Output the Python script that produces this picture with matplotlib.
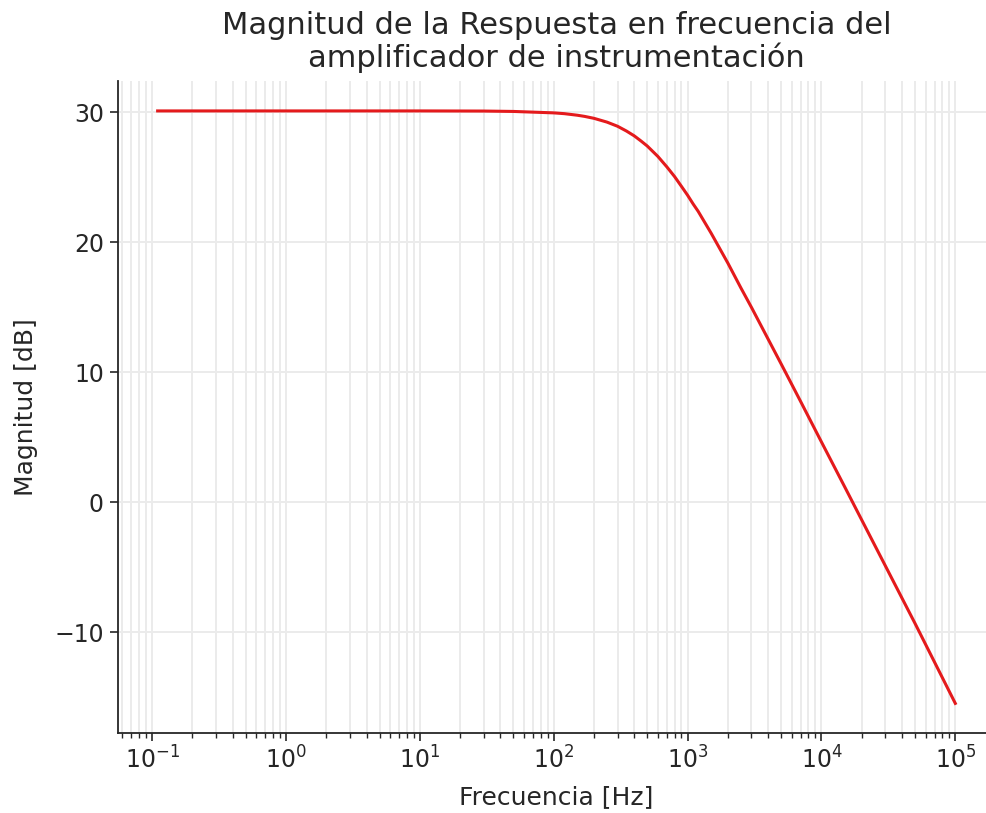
import matplotlib
matplotlib.use("Agg")
import matplotlib.pyplot as plt
from matplotlib.ticker import NullFormatter

# Data
freq_hz = [0.11, 1, 10, 30, 50, 100, 120, 150, 170, 200, 250, 300, 350, 400, 450,
           500, 600, 700, 800, 900, 1000, 1100, 1200, 1500, 2000, 2500, 3000,
           4000, 5000, 7000, 10000, 15000, 20000, 50000, 100000]
magnitude_db = [30.1, 30.1, 30.1, 30.09, 30.06, 29.95, 29.89, 29.77, 29.68, 29.53,
                29.24, 28.92, 28.55, 28.18, 27.78, 27.40, 26.60, 25.80, 25.05,
                24.30, 23.62, 22.95, 22.38, 20.70, 18.40, 16.50, 15.00, 12.55,
                10.65, 7.75, 4.65, 1.15, -1.35, -9.30, -15.45]
x_major_ticks = [1e-1, 1e0, 1e1, 1e2, 1e3, 1e4, 1e5]
y_ticks = [-10, 0, 10, 20, 30]

title = "Magnitud de la Respuesta en frecuencia del\namplificador de instrumentación"
xlabel = "Frecuencia [Hz]"
ylabel = "Magnitud [dB]"

text_color = "#262626"
plt.rcParams['font.family'] = ['DejaVu Sans']

fig = plt.figure(figsize=(9.87, 8.13), dpi=100)
ax = fig.add_axes([0.1193, 0.0984, 0.889, 0.8016])

ax.plot(freq_hz, magnitude_db, color="#e41a1c", linewidth=2.2, zorder=3)
ax.set_xscale("log")
ax.set_xticks(x_major_ticks)
minor = [m * d for d in [1e-2] + x_major_ticks[:-1] for m in range(2, 10)]
minor = [v for v in minor if v >= 0.06]
ax.set_xticks(minor, minor=True)
ax.xaxis.set_minor_formatter(NullFormatter())
ax.set_yticks(y_ticks)

ax.grid(True, which="major", color="#ebebeb", linewidth=1.4, zorder=0)
ax.grid(True, which="minor", axis="x", color="#ebebeb", linewidth=1.4, zorder=0)
ax.set_axisbelow(True)

for s in ["top", "right"]:
    ax.spines[s].set_visible(False)
for s in ["left", "bottom"]:
    ax.spines[s].set_color(text_color)
    ax.spines[s].set_linewidth(1.3)

ax.tick_params(axis="both", which="major", direction="out", length=6, width=1.2,
               color=text_color, labelcolor=text_color, labelsize=17, pad=4)
ax.tick_params(axis="x", which="minor", direction="out", length=3.5, width=1.0,
               color=text_color)

ax.set_xlabel(xlabel, fontsize=18, color=text_color, labelpad=8)
ax.set_ylabel(ylabel, fontsize=18, color=text_color, labelpad=12)
ax.set_title(title, fontsize=22, color=text_color, pad=10, linespacing=1.1)

fig.savefig("out.png", dpi=100)
